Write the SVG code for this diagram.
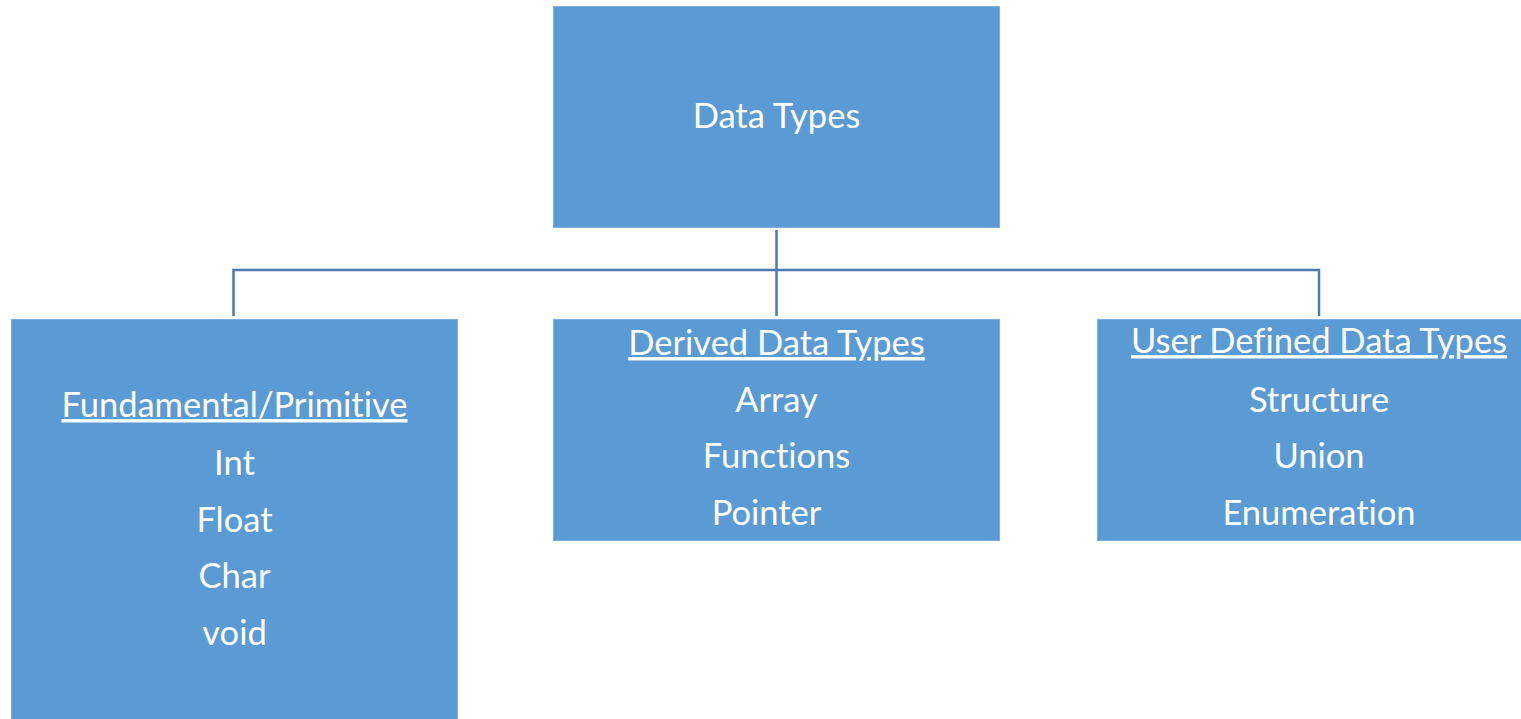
<svg xmlns="http://www.w3.org/2000/svg" width="1521" height="719" viewBox="0 0 1521 719">
  <style>
    .box { fill: #5B9BD5; stroke: #7FAEDD; stroke-width: 1; }
    .lbl { font-family: Lato, "Open Sans", "Liberation Sans", sans-serif; font-size: 34.5px; fill: #FFFFFF; text-anchor: middle; font-variant-ligatures: none; }
    .head { text-decoration: underline; }
    .wire { fill: none; stroke: #4A7AAE; stroke-width: 2.5; }
  </style>
  <rect width="1521" height="719" fill="#FFFFFF"/>

  <!-- tree connectors -->
  <g id="connectors">
    <path class="wire" d="M776.5 230 V316"/>
    <path class="wire" d="M233.5 316 V270 H1319 V316"/>
  </g>

  <g id="root">
    <rect class="box" x="553.5" y="6.5" width="446" height="221"/>
    <text class="lbl" x="776.5" y="128">Data Types</text>
  </g>

  <g id="fundamental">
    <rect class="box" x="11.5" y="319.5" width="446" height="410"/>
    <text class="lbl head" x="234.5" y="417">Fundamental/Primitive</text>
    <text class="lbl" x="234.5" y="475">Int</text>
    <text class="lbl" x="234.5" y="532">Float</text>
    <text class="lbl" x="234.5" y="588">Char</text>
    <text class="lbl" x="234.5" y="645">void</text>
  </g>

  <g id="derived">
    <rect class="box" x="553.5" y="319.5" width="446" height="221"/>
    <text class="lbl head" x="776.5" y="355">Derived Data Types</text>
    <text class="lbl" x="776.5" y="412">Array</text>
    <text class="lbl" x="776.5" y="468">Functions</text>
    <text class="lbl" x="766.5" y="525">Pointer</text>
  </g>

  <g id="user-defined">
    <rect class="box" x="1097.5" y="319.5" width="446" height="221"/>
    <text class="lbl head" x="1319" y="353">User Defined Data Types</text>
    <text class="lbl" x="1319" y="412">Structure</text>
    <text class="lbl" x="1319" y="468">Union</text>
    <text class="lbl" x="1319" y="525">Enumeration</text>
  </g>
</svg>
